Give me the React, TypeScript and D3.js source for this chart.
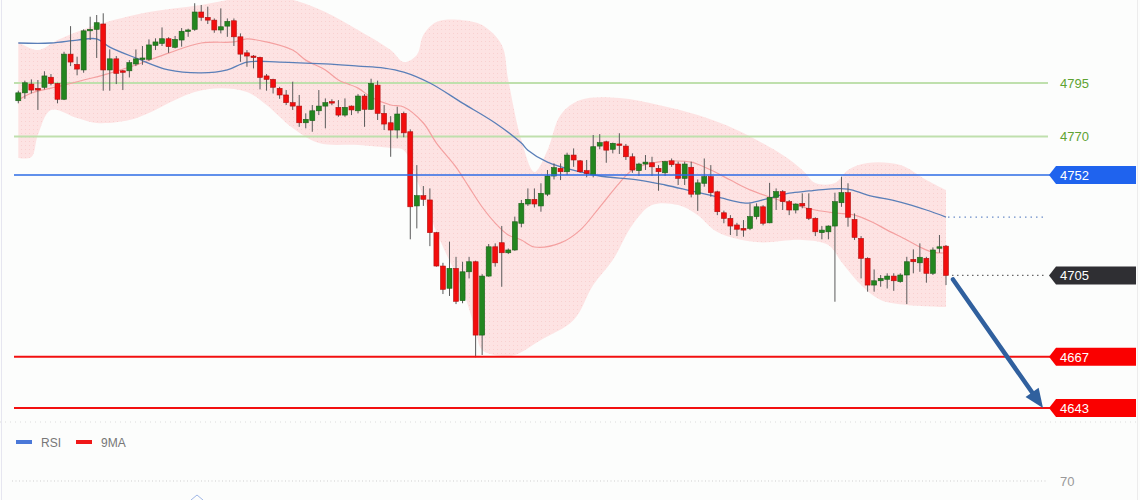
import React from "react";
import * as d3 from "d3";

const W = 1140;
const H = 500;

// [open, high, low, close]
const candles: [number, number, number, number][] = [
  [4786.7, 4791.4, 4785.5, 4790.4], [4790.4, 4796.1, 4787.6, 4795.1], [4794.5, 4796.7, 4790.1, 4791.7],
  [4792.5, 4796.4, 4782.4, 4791.7], [4793.0, 4800.5, 4792.0, 4798.3], [4797.7, 4799.2, 4793.9, 4794.8],
  [4794.8, 4795.1, 4785.5, 4787.4], [4787.4, 4809.6, 4787.0, 4808.5], [4808.5, 4821.6, 4802.9, 4804.8],
  [4803.7, 4807.3, 4798.6, 4801.5], [4801.1, 4820.1, 4799.8, 4819.4], [4819.4, 4826.0, 4815.1, 4820.1],
  [4820.1, 4826.8, 4806.7, 4823.2], [4822.6, 4827.6, 4791.4, 4801.1], [4801.1, 4810.7, 4791.4, 4806.3],
  [4806.3, 4807.6, 4794.5, 4799.5], [4800.7, 4801.1, 4791.7, 4800.1], [4800.7, 4805.7, 4797.6, 4804.5],
  [4803.9, 4810.7, 4802.9, 4806.3], [4806.1, 4812.3, 4803.5, 4806.7], [4806.1, 4815.4, 4805.4, 4812.8],
  [4812.6, 4815.9, 4810.4, 4814.2], [4813.5, 4821.0, 4812.3, 4815.7], [4815.7, 4816.4, 4809.1, 4812.0],
  [4811.7, 4817.0, 4811.2, 4815.4], [4815.1, 4820.7, 4812.0, 4819.2], [4819.2, 4820.4, 4816.6, 4819.8],
  [4820.1, 4832.3, 4819.4, 4828.2], [4828.2, 4831.5, 4824.1, 4825.7], [4825.7, 4830.7, 4822.6, 4824.4],
  [4824.4, 4825.2, 4818.5, 4819.8], [4819.8, 4829.9, 4818.2, 4821.3], [4821.6, 4825.2, 4816.6, 4823.8],
  [4824.1, 4825.2, 4812.3, 4816.6], [4816.6, 4818.2, 4804.9, 4808.5], [4809.1, 4810.4, 4802.6, 4807.6],
  [4807.6, 4808.1, 4801.8, 4807.0], [4807.0, 4807.3, 4792.0, 4797.6], [4798.3, 4799.2, 4791.4, 4796.7],
  [4796.7, 4797.0, 4790.1, 4793.0], [4792.5, 4793.2, 4787.6, 4789.4], [4789.4, 4791.7, 4784.7, 4785.8],
  [4785.8, 4795.6, 4782.4, 4784.2], [4784.2, 4789.4, 4774.5, 4776.4], [4776.4, 4780.8, 4773.8, 4778.0],
  [4777.4, 4784.7, 4772.2, 4782.0], [4782.0, 4791.7, 4780.0, 4784.2], [4784.2, 4787.8, 4773.8, 4785.8],
  [4786.3, 4787.4, 4784.6, 4786.1], [4783.6, 4787.0, 4779.2, 4780.0], [4780.0, 4787.8, 4779.2, 4783.6],
  [4784.2, 4784.5, 4780.0, 4782.4], [4782.0, 4789.8, 4780.8, 4788.9], [4788.9, 4789.8, 4774.5, 4782.7],
  [4782.7, 4797.0, 4782.4, 4794.8], [4794.0, 4796.1, 4777.7, 4780.8], [4780.8, 4784.7, 4773.0, 4775.8],
  [4776.4, 4779.5, 4760.5, 4773.0], [4773.0, 4783.9, 4769.1, 4780.5], [4780.8, 4781.6, 4769.6, 4771.7],
  [4772.2, 4773.3, 4721.9, 4737.1], [4737.5, 4756.6, 4727.0, 4742.3], [4742.3, 4746.8, 4737.5, 4740.6],
  [4740.3, 4745.7, 4718.7, 4725.0], [4725.0, 4725.4, 4709.1, 4709.4], [4709.4, 4710.9, 4696.3, 4698.5],
  [4699.0, 4720.8, 4695.4, 4708.3], [4708.3, 4713.7, 4691.6, 4692.9], [4693.2, 4711.4, 4692.0, 4706.7],
  [4706.7, 4713.7, 4703.6, 4711.4], [4711.4, 4711.9, 4666.7, 4677.1], [4677.1, 4705.6, 4667.8, 4704.7],
  [4704.7, 4719.7, 4704.4, 4718.4], [4718.4, 4720.0, 4709.1, 4710.9], [4720.3, 4728.1, 4699.7, 4715.6],
  [4715.6, 4717.6, 4715.0, 4716.9], [4716.9, 4732.5, 4716.5, 4730.1], [4729.4, 4740.3, 4727.5, 4738.7],
  [4738.4, 4745.7, 4737.5, 4740.6], [4740.6, 4745.7, 4736.8, 4738.4], [4737.5, 4748.1, 4734.8, 4743.4],
  [4743.0, 4754.3, 4742.1, 4751.5], [4751.5, 4757.4, 4749.9, 4755.4], [4755.1, 4757.4, 4749.6, 4753.5],
  [4753.5, 4762.4, 4752.0, 4761.3], [4761.3, 4764.4, 4755.8, 4759.0], [4758.6, 4759.0, 4753.0, 4753.5],
  [4754.0, 4759.0, 4750.9, 4752.7], [4752.0, 4770.7, 4750.9, 4765.2], [4765.5, 4771.1, 4764.0, 4767.1],
  [4767.5, 4768.0, 4757.7, 4763.6], [4764.0, 4767.1, 4762.1, 4766.8], [4766.5, 4771.5, 4761.8, 4765.8],
  [4765.5, 4766.5, 4759.0, 4760.5], [4760.5, 4762.1, 4753.0, 4754.3], [4754.0, 4757.7, 4751.5, 4757.1],
  [4757.1, 4761.3, 4754.3, 4758.0], [4757.7, 4760.5, 4751.5, 4755.8], [4755.1, 4756.6, 4744.6, 4753.5],
  [4753.0, 4758.6, 4751.5, 4758.2], [4758.6, 4759.7, 4755.8, 4756.8], [4757.1, 4758.2, 4747.3, 4750.4],
  [4750.4, 4758.2, 4747.3, 4757.1], [4755.6, 4758.2, 4741.5, 4743.0], [4743.0, 4749.9, 4735.2, 4748.3],
  [4748.1, 4759.7, 4746.5, 4751.2], [4751.2, 4756.6, 4741.8, 4743.7], [4744.1, 4744.6, 4733.2, 4734.8],
  [4734.3, 4735.3, 4729.4, 4731.7], [4731.7, 4733.2, 4723.9, 4728.1], [4728.6, 4729.6, 4723.4, 4726.6],
  [4727.0, 4730.9, 4723.1, 4726.2], [4727.0, 4738.7, 4726.2, 4732.5], [4732.5, 4738.7, 4731.2, 4737.1],
  [4737.1, 4737.9, 4728.4, 4729.4], [4729.6, 4748.3, 4729.4, 4741.5], [4741.5, 4745.7, 4735.6, 4744.2],
  [4744.2, 4744.9, 4735.6, 4739.5], [4739.5, 4740.3, 4733.2, 4735.6], [4735.6, 4738.7, 4734.0, 4738.4],
  [4738.7, 4743.4, 4736.4, 4737.5], [4736.4, 4743.4, 4730.9, 4731.7], [4731.7, 4732.2, 4723.4, 4725.4],
  [4725.0, 4728.1, 4721.9, 4726.2], [4725.4, 4728.4, 4721.9, 4728.1], [4728.1, 4743.7, 4692.7, 4739.5],
  [4739.0, 4751.2, 4737.1, 4743.7], [4743.7, 4748.1, 4727.8, 4732.2], [4731.2, 4734.0, 4721.6, 4722.8],
  [4722.3, 4723.4, 4703.6, 4713.0], [4713.0, 4713.5, 4697.4, 4700.5], [4700.5, 4707.8, 4697.4, 4702.5],
  [4702.5, 4705.2, 4699.7, 4703.6], [4703.2, 4706.0, 4698.9, 4704.7], [4704.7, 4706.0, 4697.8, 4702.5],
  [4702.1, 4706.0, 4701.6, 4705.2], [4705.2, 4713.7, 4691.6, 4711.4], [4712.5, 4717.2, 4706.0, 4711.4],
  [4710.9, 4720.0, 4706.7, 4713.5], [4713.0, 4713.7, 4701.6, 4706.0], [4706.0, 4718.1, 4705.2, 4716.9],
  [4717.7, 4723.9, 4715.6, 4718.4], [4718.7, 4719.2, 4700.5, 4705.0],
];

// [candle index, price]
const upperBand: [number, number][] = [
  [0, 4814.2], [3, 4810.4], [6, 4815.1], [12, 4822.1], [20, 4828.2], [28, 4831.5], [35, 4835.2],
  [40, 4835.0], [43, 4833.0], [47, 4828.2], [52, 4819.8], [57, 4810.4], [59, 4804.8], [61, 4808.1],
  [62, 4817.4], [64, 4823.5], [68, 4824.4], [71, 4822.1], [74, 4812.8], [75, 4796.4], [77, 4768.3],
  [79, 4753.4], [81, 4763.6], [83, 4780.0], [86, 4787.0], [92, 4788.0], [98, 4784.7], [104, 4780.0],
  [110, 4773.0], [117, 4761.3], [120, 4754.3], [122, 4748.2], [125, 4748.2], [127, 4754.3],
  [130, 4757.6], [135, 4756.6], [139, 4749.6], [142, 4744.9],
];
const lowerBand: [number, number][] = [
  [0, 4759.9], [2, 4760.4], [3, 4770.7], [5, 4782.4], [9, 4778.6], [12, 4776.3], [17, 4777.7],
  [20, 4781.0], [24, 4787.0], [27, 4790.8], [31, 4792.6], [35, 4790.8], [38, 4784.7], [42, 4773.9],
  [46, 4766.9], [52, 4766.0], [57, 4764.6], [59, 4763.6], [61, 4749.6], [64, 4725.3], [68, 4698.2],
  [70, 4679.5], [71, 4670.1], [74, 4667.3], [76, 4667.8], [80, 4674.8], [85, 4684.1], [88, 4700.5],
  [91, 4712.2], [94, 4728.6], [97, 4737.9], [101, 4737.9], [104, 4733.2], [107, 4725.3],
  [113, 4720.6], [120, 4721.6], [124, 4719.2], [126, 4711.3], [129, 4700.5], [132, 4693.5],
  [136, 4691.2], [142, 4690.2],
];
const midLine: [number, number][] = [
  [0, 4787.0], [2, 4790.3], [5, 4792.6], [7, 4794.0], [10, 4796.4], [13, 4798.7], [18, 4803.4],
  [23, 4809.0], [28, 4813.7], [33, 4814.2], [35, 4815.6], [38, 4814.2], [42, 4810.4], [44, 4805.7],
  [47, 4801.1], [49, 4796.4], [52, 4792.6], [54, 4788.4], [57, 4784.7], [59, 4783.8], [62, 4776.3],
  [64, 4766.9], [67, 4755.7], [69, 4746.3], [71, 4737.0], [73, 4729.5], [75, 4723.9], [77, 4721.6],
  [79, 4718.3], [83, 4720.2], [86, 4726.2], [89, 4737.0], [92, 4748.2], [94, 4754.3], [97, 4757.6],
  [100, 4758.5], [103, 4758.0], [106, 4754.3], [109, 4749.6], [112, 4745.0], [115, 4741.7],
  [119, 4737.9], [122, 4735.6], [125, 4734.2], [128, 4733.2], [131, 4729.5], [133, 4726.2],
  [136, 4721.6], [138, 4718.3], [140, 4715.9], [142, 4715.5],
];
const slowLine: [number, number][] = [
  [0, 4813.7], [5, 4813.7], [9, 4815.1], [12, 4815.6], [14, 4811.8], [18, 4806.7], [23, 4801.1],
  [28, 4799.7], [32, 4801.1], [35, 4804.8], [40, 4804.8], [47, 4803.9], [52, 4802.9], [56, 4802.0],
  [59, 4800.1], [63, 4795.0], [68, 4785.6], [73, 4776.3], [77, 4766.9], [78, 4763.6], [81, 4758.0],
  [86, 4753.4], [89, 4751.5], [95, 4749.6], [99, 4747.3], [103, 4744.5], [107, 4741.7], [111, 4738.9],
  [112, 4738.9], [115, 4741.2], [118, 4743.5], [121, 4744.5], [124, 4745.4], [127, 4745.4],
  [130, 4742.6], [135, 4739.3], [139, 4735.6], [142, 4732.3],
];

const resistanceLevels = [4795, 4770];
const pivotLevel = 4752;
const lastPrice = 4705;
const targetLevels = [4667, 4643];
const rsiLevel = 70;
const legendItems = [
  { name: "RSI", color: "#4a78d8" },
  { name: "9MA", color: "#f01818" },
];

const FONT = "'Liberation Sans', Arial, sans-serif";

function Tag({ y, color, label }: { y: number; color: string; label: string }) {
  const pts = `1049,${y} 1056,${y - 9} 1136,${y - 9} 1136,${y + 9} 1056,${y + 9}`;
  return (
    <g>
      <polygon points={pts} fill={color} />
      <text x={1060} y={y + 0.5} dominantBaseline="central" fill="#fff" fontSize={13} fontFamily={FONT}>
        {label}
      </text>
    </g>
  );
}

export default function App() {
  const x = d3.scaleLinear().domain([0, candles.length - 1]).range([18.3, 946]);
  const y = d3.scaleLinear().domain([4643, 4795]).range([408, 83]);

  const line = d3
    .line<[number, number]>()
    .x((d) => x(d[0]))
    .y((d) => y(d[1]))
    .curve(d3.curveCatmullRom.alpha(0.5));

  const upperPath = line(upperBand) || "";
  const lowerRev = (line([...lowerBand].reverse()) || "").replace(/^M/, "L");
  const bandPath = upperPath + lowerRev + "Z";

  const bodyW = 5;

  const arrowStart: [number, number] = [x(candles.length - 1) + 7, y(lastPrice) + 4];
  const arrowEnd: [number, number] = [1043, y(targetLevels[1])];
  const ang = Math.atan2(arrowEnd[1] - arrowStart[1], arrowEnd[0] - arrowStart[0]);
  const headL = 19;
  const headW = 8;
  const baseX = arrowEnd[0] - headL * Math.cos(ang);
  const baseY = arrowEnd[1] - headL * Math.sin(ang);
  const head = [
    [arrowEnd[0], arrowEnd[1]],
    [baseX + headW * Math.sin(ang), baseY - headW * Math.cos(ang)],
    [baseX - headW * Math.sin(ang), baseY + headW * Math.cos(ang)],
  ]
    .map((p) => p.join(","))
    .join(" ");

  const lastSlow = slowLine[slowLine.length - 1];

  return (
    <svg
      width={W}
      height={H}
      style={{ position: "absolute", left: 0, top: 0, display: "block" }}
      xmlns="http://www.w3.org/2000/svg"
    >
      <defs>
        <pattern id="dots" width="4" height="4" patternUnits="userSpaceOnUse">
          <rect width="4" height="4" fill="#fde3e3" />
          <rect x="1" y="1" width="1" height="1" fill="#f9d0d0" />
        </pattern>
        <clipPath id="plot">
          <rect x={0} y={0} width={W} height={420} />
        </clipPath>
      </defs>
      <rect width={W} height={H} fill="#fcfdfc" />
      <line x1={1.5} y1={0} x2={1.5} y2={H} stroke="#e6e6f0" strokeWidth={1} />
      <line x1={1137.5} y1={0} x2={1137.5} y2={H} stroke="#ececec" strokeWidth={1} />

      <g clipPath="url(#plot)">
        <path d={bandPath} fill="url(#dots)" stroke="none" />
      </g>

      {resistanceLevels.map((lv) => (
        <g key={lv}>
          <line x1={14} x2={1048} y1={y(lv)} y2={y(lv)} stroke="#bfe0ad" strokeWidth={2} />
          <text x={1060} y={y(lv) + 0.5} dominantBaseline="central" fill="#5ea332" fontSize={13} fontFamily={FONT}>
            {lv}
          </text>
        </g>
      ))}

      <g clipPath="url(#plot)">
        <path d={line(midLine) || ""} fill="none" stroke="#f4a0a0" strokeWidth={1.2} />
        <path d={line(slowLine) || ""} fill="none" stroke="#5a7fb8" strokeWidth={1.3} />
      </g>

      <line
        x1={x(lastSlow[0]) + 2}
        x2={1046}
        y1={y(lastSlow[1])}
        y2={y(lastSlow[1])}
        stroke="#6a8cc8"
        strokeWidth={1.2}
        strokeDasharray="1.5,4"
      />

      {candles.map(([o, h, l, c], i) => {
        const up = c >= o;
        const cx = x(i);
        const top = y(Math.max(o, c));
        const bot = y(Math.min(o, c));
        const bh = Math.max(bot - top, 1.5);
        return (
          <g key={i}>
            <line x1={cx} x2={cx} y1={y(h)} y2={y(l)} stroke="#5a5a5a" strokeWidth={1} />
            <rect
              x={cx - bodyW / 2}
              y={top}
              width={bodyW}
              height={bh}
              fill={up ? "#23861f" : "#f20d0d"}
              stroke={up ? "#1d5e1a" : "#b01010"}
              strokeWidth={0.6}
            />
          </g>
        );
      })}

      <line x1={14} x2={1050} y1={y(pivotLevel)} y2={y(pivotLevel)} stroke="#2c6be6" strokeWidth={1.5} />
      <Tag y={y(pivotLevel)} color="#1f63ee" label={String(pivotLevel)} />

      <line
        x1={x(candles.length - 1) + 6}
        x2={1046}
        y1={y(lastPrice)}
        y2={y(lastPrice)}
        stroke="#666"
        strokeWidth={1.2}
        strokeDasharray="1.5,3.5"
      />
      <Tag y={y(lastPrice)} color="#2f2f33" label={String(lastPrice)} />

      {targetLevels.map((lv) => (
        <g key={lv}>
          <line x1={14} x2={1050} y1={y(lv)} y2={y(lv)} stroke="#f21010" strokeWidth={2} />
          <Tag y={y(lv)} color="#fa0000" label={String(lv)} />
        </g>
      ))}

      <line
        x1={arrowStart[0]}
        y1={arrowStart[1]}
        x2={baseX + 2 * Math.cos(ang)}
        y2={baseY + 2 * Math.sin(ang)}
        stroke="#30609e"
        strokeWidth={4.5}
        strokeLinecap="round"
      />
      <polygon points={head} fill="#30609e" />

      {/* lower pane */}
      <line x1={0} x2={W} y1={422} y2={422} stroke="#dcdcdc" strokeWidth={1} strokeDasharray="1,4" />
      {legendItems.map((it, i) => (
        <g key={it.name} transform={`translate(${16 + i * 60},442)`}>
          <rect x={0} y={-2} width={16} height={4} fill={it.color} />
          <text x={25} y={0.5} dominantBaseline="central" fill="#777" fontSize={12} fontFamily={FONT}>
            {it.name}
          </text>
        </g>
      ))}
      <line x1={12} x2={1048} y1={481} y2={481} stroke="#cfcfcf" strokeWidth={1} strokeDasharray="1,2.5" />
      <text x={1060} y={481} dominantBaseline="central" fill="#999" fontSize={13} fontFamily={FONT}>
        {rsiLevel}
      </text>
      <polyline points="191,500 197,495 203,500" fill="none" stroke="#9fb6e6" strokeWidth={1} />
    </svg>
  );
}
